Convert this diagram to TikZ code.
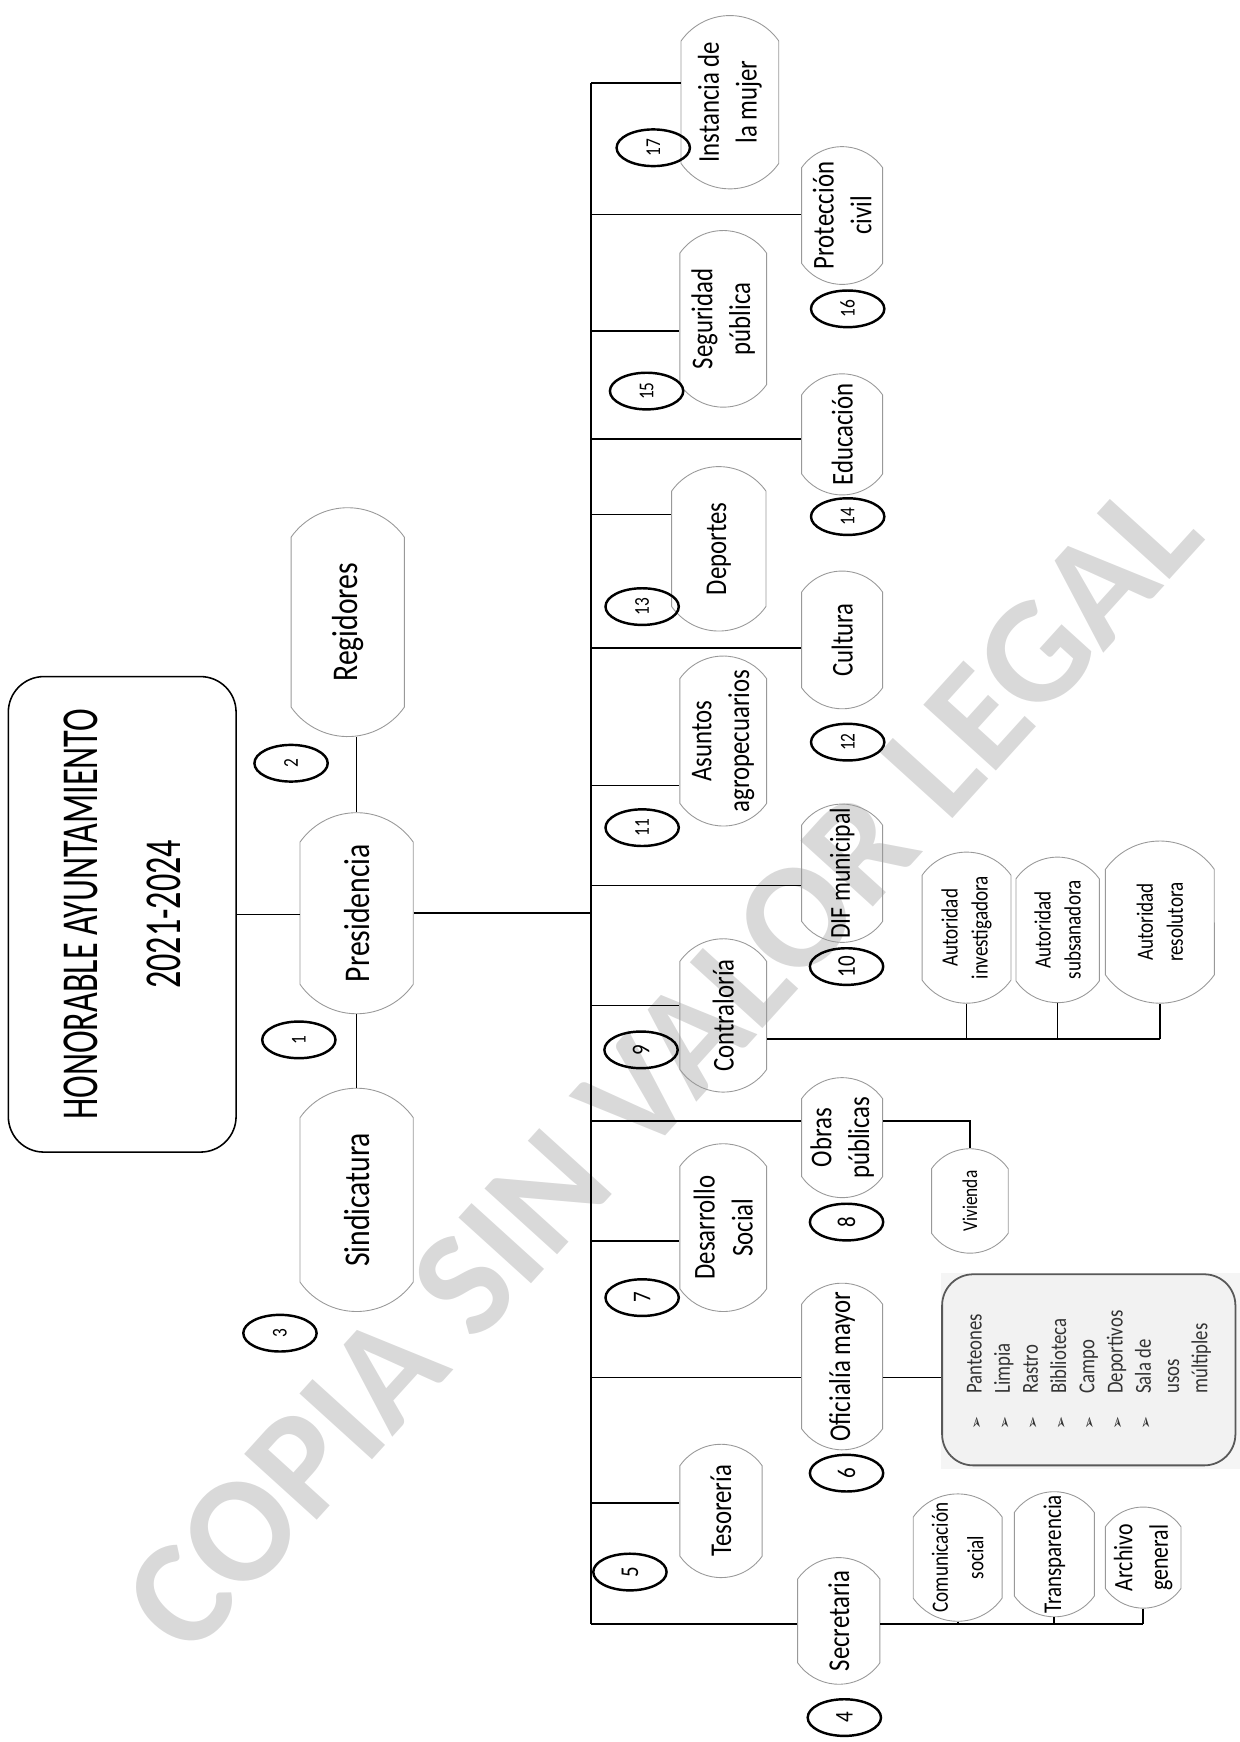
\documentclass[tikz,border=0pt]{standalone}
\usepackage{fontspec}
\setmainfont{Carlito}[FakeStretch=0.82]
\newfontfamily\titlefont{Carlito}[FakeStretch=0.66]
\newfontfamily\markfont{Carlito}
\newfontfamily\bulletfont{DejaVu Sans}
\usetikzlibrary{calc,positioning,shapes.geometric,shapes.misc}

\tikzset{
  unitbox/.style={rounded rectangle, rounded rectangle arc length=110, draw=black!40, line width=0.4pt, rotate=90, align=center, inner sep=1pt},
  headbox/.style={unitbox, minimum height=51pt, font=\fontsize{16.3}{19}\selectfont},
  deptbox/.style={unitbox, font=\fontsize{13.6}{17}\selectfont},
  subbox/.style={unitbox, font=\fontsize{10.5}{13.5}\selectfont},
  numtag/.style={ellipse, draw, line width=1.1pt, rotate=90, inner sep=0pt, minimum width=16.5pt, minimum height=33pt, font=\fontsize{9.5}{10}\selectfont},
  bignum/.style={numtag, font=\fontsize{11.5}{12}\selectfont},
  link/.style={line width=0.75pt},
}
\newcommand{\itemmark}{{\bulletfont\fontsize{7}{7}\selectfont ➢}}

\begin{document}
\begin{tikzpicture}[x=0.5pt, y=-0.5pt]
\useasboundingbox (0,0) rectangle (1116,1568);

% marca de agua
\node[rotate=47.8, text=black!15, font=\markfont\bfseries\fontsize{68}{68}\selectfont] (marca) at (596,960) {COPIA SIN VALOR LEGAL};

% cabeza
\node[draw, rounded corners=16pt, line width=0.7pt, rotate=90, align=center, minimum width=214pt, minimum height=102.5pt, font=\titlefont\fontsize{23.3}{37.5}\selectfont] (title) at (110,823) {HONORABLE AYUNTAMIENTO\\2021-2024};

\node[headbox, minimum width=105pt] (reg) at (313,560) {Regidores};
\node[headbox, minimum width=92.5pt] (pres) at (321,822) {Presidencia};
\node[headbox, minimum width=102.5pt] (sind) at (321,1080) {Sindicatura};

\node[numtag] (n1) at (269,936) {1};
\node[numtag] (n2) at (262,687) {2};
\node[numtag] (n3) at (252,1200) {3};

\draw[link] (title.south) -- (title.south -| pres.north);
\draw[link] (pres.east) -- (pres.east |- reg.west);
\draw[link] (pres.west) -- (pres.west |- sind.east);

% direcciones
\node[deptbox, minimum height=44pt, minimum width=80pt] (inst) at (657,92) {Instancia de\\la mujer};
\node[deptbox, minimum height=39pt, minimum width=81.5pt] (seg) at (651,287) {Seguridad\\pública};
\node[deptbox, minimum height=42.5pt, minimum width=76pt] (dep) at (647,494) {Deportes};
\node[deptbox, minimum height=39pt, minimum width=78.5pt] (asun) at (651,667) {Asuntos\\agropecuarios};
\node[deptbox, minimum height=39pt, minimum width=71pt] (cont) at (651,914) {Contraloría};
\node[deptbox, minimum height=39pt, minimum width=77.5pt] (des) at (651,1105) {Desarrollo\\Social};
\node[deptbox, minimum height=37pt, minimum width=62pt] (tes) at (649,1360) {Tesorería};

\node[deptbox, minimum height=36.5pt, minimum width=64pt] (prot) at (758,194) {Protección\\civil};
\node[deptbox, minimum height=36.5pt, minimum width=56.5pt] (edu) at (758,391) {Educación};
\node[deptbox, minimum height=36.5pt, minimum width=64pt] (cul) at (758,576) {Cultura};
\node[deptbox, font=\fontsize{13}{17}\selectfont, minimum height=36.5pt, minimum width=60pt] (dif) at (758,786) {DIF municipal};
\node[deptbox, minimum height=36.5pt, minimum width=56pt] (obras) at (758,1024) {Obras\\públicas};
\node[deptbox, minimum height=36.5pt, minimum width=77pt] (ofi) at (758,1230) {Oficialía mayor};
\node[deptbox, minimum height=37pt, minimum width=59pt] (sec) at (755,1459) {Secretaria};

\node[bignum] (n4) at (760,1546) {4};
\node[bignum] (n5) at (567,1415) {5};
\node[bignum] (n6) at (762,1326) {6};
\node[bignum] (n7) at (578,1168) {7};
\node[bignum] (n8) at (762,1100) {8};
\node[bignum] (n9) at (577,945) {9};
\node[bignum] (n10) at (762,870) {10};
\node[numtag] (n11) at (578,745) {11};
\node[numtag] (n12) at (763,668) {12};
\node[numtag] (n13) at (578,546) {13};
\node[numtag] (n14) at (763,465) {14};
\node[numtag] (n15) at (582,352) {15};
\node[numtag] (n16) at (763,278) {16};
\node[numtag] (n17) at (588,133) {17};

% areas
\node[subbox, font=\fontsize{9.5}{12}\selectfont, minimum height=34.5pt, minimum width=49pt] (viv) at (873,1081) {Vivienda};
\node[subbox, minimum height=40pt, minimum width=70pt] (aut1) at (870,835) {Autoridad\\investigadora};
\node[subbox, minimum height=37.5pt, minimum width=67.5pt] (aut2) at (952,837) {Autoridad\\subsanadora};
\node[subbox, minimum height=49pt, minimum width=75pt] (aut3) at (1044,830) {Autoridad\\resolutora};
\node[subbox, font=\fontsize{10.5}{16}\selectfont, minimum height=40pt, minimum width=47.5pt] (com) at (862,1402) {Comunicación\\social};
\node[subbox, font=\fontsize{11.5}{14}\selectfont, minimum height=36pt, minimum width=51pt] (tra) at (949,1399) {Transparencia};
\node[subbox, font=\fontsize{12}{16}\selectfont, minimum height=34pt, minimum width=47.5pt] (arc) at (1029,1402) {Archivo\\general};

\fill[black!4] (847,1146) rectangle (1116,1322);
\node[draw=black!65, fill=black!5, rounded corners=14pt, line width=0.8pt, rotate=90, minimum width=86pt, minimum height=132pt, inner sep=0pt, text=black!80, font=\fontsize{10.3}{12.7}\selectfont] (lista) at (980,1233) {%
  \begin{tabular}{@{}l@{\hspace{10pt}}l@{}}
  \itemmark & Panteones\\
  \itemmark & Limpia\\
  \itemmark & Rastro\\
  \itemmark & Biblioteca\\
  \itemmark & Campo\\
  \itemmark & Deportivos\\
  \itemmark & Sala de\\
   & usos\\
   & múltiples
  \end{tabular}};

% tronco y ramas
\coordinate (spinetop) at (532,75);
\coordinate (spinebot) at (532,1462);
\coordinate (b16) at (532,193);
\coordinate (b15) at (532,298);
\coordinate (b14) at (532,395);
\coordinate (b13) at (532,463);
\coordinate (b12) at (532,583);
\coordinate (b11) at (532,707);
\coordinate (b10) at (532,797);
\coordinate (b9) at (532,905);
\coordinate (b8) at (532,1009);
\coordinate (b7) at (532,1117);
\coordinate (b6) at (532,1240);
\coordinate (b5) at (532,1353);

\draw[link] (spinetop) -- (spinebot);
\draw[link] (pres.south) -- (pres.south -| spinetop);

\draw[link] (spinetop) -- (spinetop -| inst.north);
\draw[link] (b16) -- (b16 -| prot.north);
\draw[link] (b15) -- (b15 -| seg.north);
\draw[link] (b14) -- (b14 -| edu.north);
\draw[link] (b13) -- (b13 -| dep.north);
\draw[link] (b12) -- (b12 -| cul.north);
\draw[link] (b11) -- (b11 -| asun.north);
\draw[link] (b10) -- (b10 -| dif.north);
\draw[link] (b9) -- (b9 -| cont.north);
\draw[link] (b8) -- (b8 -| obras.north);
\draw[link] (b7) -- (b7 -| des.north);
\draw[link] (b6) -- (b6 -| ofi.north);
\draw[link] (b5) -- (b5 -| tes.north);
\draw[link] (spinebot) -- (spinebot -| sec.north);

% subordinados
\draw[link] (b8 -| obras.south) -| (viv.east);
\draw[link] (b6 -| ofi.south) -- (b6 -| lista.north);

\coordinate (contbus) at ($(cont.south)+(0,21)$);
\draw[link] (contbus) -- (contbus -| aut3.west);
\draw[link] (aut1.west) -- (aut1.west |- contbus);
\draw[link] (aut2.west) -- (aut2.west |- contbus);
\draw[link] (aut3.west) -- (aut3.west |- contbus);

\coordinate (secbus) at (spinebot -| sec.south);
\draw[link] (secbus) -- (secbus -| arc.west);
\draw[link] (com.west) -- (com.west |- secbus);
\draw[link] (tra.west) -- (tra.west |- secbus);
\draw[link] (arc.west) -- (arc.west |- secbus);

\end{tikzpicture}
\end{document}
